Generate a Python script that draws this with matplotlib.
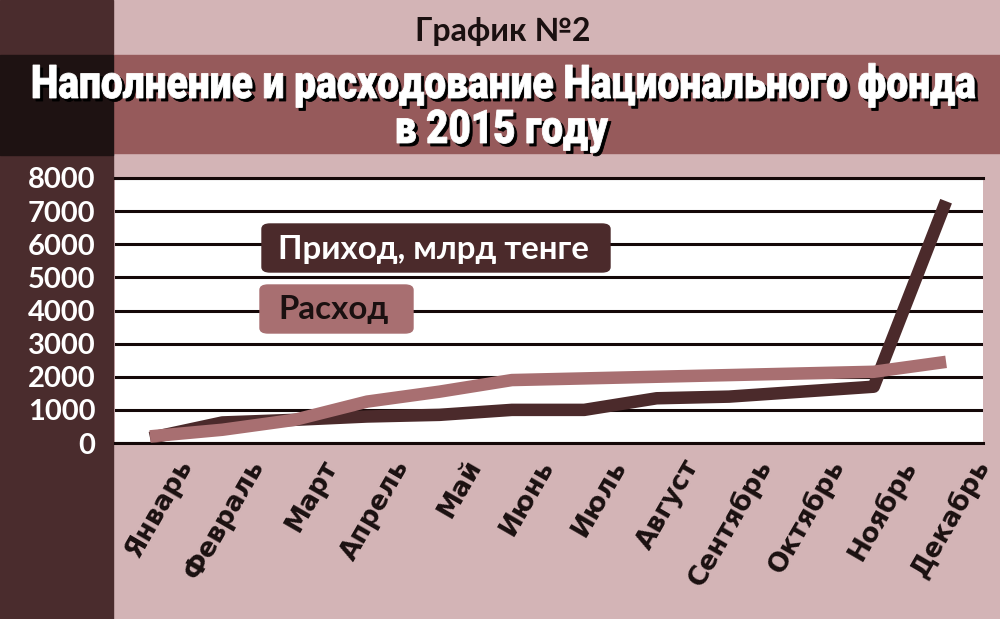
import matplotlib
matplotlib.use('Agg')
import matplotlib.pyplot as plt
from matplotlib.patches import Rectangle, FancyBboxPatch, PathPatch
from matplotlib.transforms import ScaledTranslation, Affine2D
from matplotlib.textpath import TextPath
from matplotlib.font_manager import FontProperties

months = ['Январь', 'Февраль', 'Март', 'Апрель', 'Май', 'Июнь',
          'Июль', 'Август', 'Сентябрь', 'Октябрь', 'Ноябрь', 'Декабрь']
income = [150, 620, 700, 800, 850, 1000, 1000, 1350, 1400, 1550, 1700, 7300]
spending = [200, 400, 700, 1250, 1550, 1900, 1950, 2000, 2050, 2100, 2150, 2450]
yticks = [0, 1000, 2000, 3000, 4000, 5000, 6000, 7000, 8000]
title1 = 'Наполнение и расходование Национального фонда'
title2 = 'в 2015 году'

bg_light = '#d3b4b6'
strip = '#4a2c2d'
corner = '#1e1212'
band = '#965a5b'
c_income = '#4b2a2b'
c_spend = '#a86f71'

W, H = 1000, 619


def fx(x):
    return x / W


def fy(y):
    return 1 - y / H


def squeezed_title(fig, text, left, right, baseline, cap):
    # condensed heavy title: text path stretched into a given box, with drop shadow
    fp = FontProperties(family='Roboto', weight='black')
    tp = TextPath((0, 0), text, size=1, prop=fp)
    capref = TextPath((0, 0), 'Н', size=1, prop=fp).get_extents().height
    bb = tp.get_extents()
    sx = (right - left) / bb.width
    sy = cap / capref
    for dx, dy, col, z in [(3, 3, 'black', 7), (0, 0, 'white', 8)]:
        tr = (Affine2D().translate(-bb.x0, 0).scale(sx / W, sy / H)
              .translate(fx(left + dx), fy(baseline + dy)) + fig.transFigure)
        fig.add_artist(PathPatch(tp, transform=tr, facecolor=col, edgecolor=col, lw=0.6, zorder=z))


fig = plt.figure(figsize=(10, 6.19), dpi=100, facecolor=bg_light)

# background blocks
fig.add_artist(Rectangle((0, 0), fx(113), 1, transform=fig.transFigure, color=strip, zorder=0))
fig.add_artist(Rectangle((fx(113), fy(153)), 1, fy(55) - fy(153), transform=fig.transFigure, color=band, zorder=0))
fig.add_artist(Rectangle((0, fy(155)), fx(113), fy(55) - fy(155), transform=fig.transFigure, color=corner, zorder=0))

fig.text(fx(503), fy(31), 'График №2', ha='center', va='center', fontsize=23,
         fontweight='bold', color='#1a1010', family='Lato')

squeezed_title(fig, title1, 33, 975, 98, 33)
squeezed_title(fig, title2, 397, 608, 143, 33)

ax = fig.add_axes([fx(115), fy(443), fx(983) - fx(115), fy(178) - fy(443)])
ax.set_facecolor('white')
x = list(range(len(months)))
ax.plot(x, income, color=c_income, lw=9, solid_capstyle='butt', zorder=3)
ax.plot(x, spending, color=c_spend, lw=9, solid_capstyle='butt', zorder=4)

ax.set_xlim(-0.484, 11.51)
ax.set_ylim(0, 8000)
ax.set_yticks(yticks)
ax.set_yticklabels([str(v) for v in yticks], fontsize=21, fontweight='bold', color='white', family='Lato')
ax.yaxis.grid(True, color='#140808', lw=2.2)
ax.set_axisbelow(True)
ax.tick_params(axis='y', length=0, pad=14)
ax.set_xticks(x)
ax.set_xticklabels(months, rotation=60, ha='right', va='top', rotation_mode='anchor',
                   fontsize=19, fontweight='bold', color='#1a1010', family='DejaVu Sans')
ax.tick_params(axis='x', length=0, pad=0)
off = ScaledTranslation(0.25, -0.12, fig.dpi_scale_trans)
for lab in ax.get_xticklabels():
    lab.set_transform(lab.get_transform() + off)

for s in ['left', 'right']:
    ax.spines[s].set_visible(False)
for s in ['top', 'bottom']:
    ax.spines[s].set_color('#140808')
    ax.spines[s].set_linewidth(2.2)

# legend boxes
fig.add_artist(FancyBboxPatch((fx(262), fy(272)), fx(610) - fx(262), fy(224) - fy(272),
                              boxstyle='round,pad=0,rounding_size=0.008', transform=fig.transFigure,
                              color=c_income, zorder=5))
fig.add_artist(FancyBboxPatch((fx(260), fy(333)), fx(413) - fx(260), fy(285) - fy(333),
                              boxstyle='round,pad=0,rounding_size=0.008', transform=fig.transFigure,
                              color=c_spend, zorder=5))
fig.text(fx(278), fy(249), 'Приход, млрд тенге', ha='left', va='center', fontsize=23.8,
         fontweight='bold', color='white', family='Lato', zorder=6)
fig.text(fx(278), fy(310), 'Расход', ha='left', va='center', fontsize=23.8,
         fontweight='bold', color='#1a1010', family='Lato', zorder=6)

fig.savefig('out.png', dpi=100, facecolor=bg_light)
